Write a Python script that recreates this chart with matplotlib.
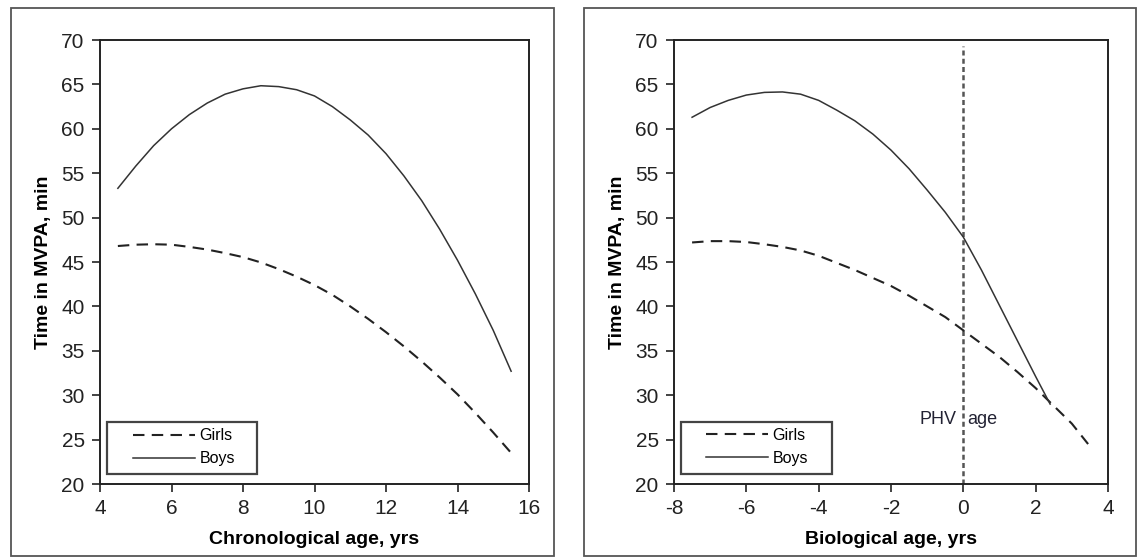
import matplotlib.pyplot as plt
from matplotlib.patches import Rectangle

plt.rcParams['font.family'] = ['Liberation Sans', 'DejaVu Sans']
plt.rcParams['axes.unicode_minus'] = False

# left panel: chronological age (yrs)
chrono_x = [4.5, 5.0, 5.5, 6.0, 6.5, 7.0, 7.5, 8.0, 8.5, 9.0, 9.5, 10.0,
            10.5, 11.0, 11.5, 12.0, 12.5, 13.0, 13.5, 14.0, 14.5, 15.0, 15.5]
chrono_boys = [53.3, 55.8, 58.1, 60.0, 61.6, 62.9, 63.9, 64.5, 64.85, 64.75, 64.4, 63.7,
               62.5, 61.0, 59.3, 57.2, 54.7, 51.9, 48.7, 45.2, 41.4, 37.3, 32.7]
chrono_girls = [46.8, 46.95, 47.0, 46.95, 46.7, 46.4, 46.0, 45.55, 44.95, 44.2, 43.35, 42.4,
                41.3, 40.0, 38.6, 37.1, 35.5, 33.8, 32.0, 30.1, 28.0, 25.8, 23.5]

# right panel: biological age (yrs from PHV)
bio_bx = [-7.5, -7.0, -6.5, -6.0, -5.5, -5.0, -4.5, -4.0, -3.5, -3.0, -2.5, -2.0,
          -1.5, -1.0, -0.5, 0.0, 0.5, 1.0, 1.5, 2.0, 2.4]
bio_boys = [61.3, 62.4, 63.2, 63.8, 64.1, 64.15, 63.9, 63.2, 62.1, 60.9, 59.4, 57.6,
            55.5, 53.1, 50.6, 47.8, 44.1, 40.1, 36.1, 32.1, 29.0]
bio_gx = [-7.5, -7.0, -6.5, -6.0, -5.5, -5.0, -4.5, -4.0, -3.5, -3.0, -2.5, -2.0,
          -1.5, -1.0, -0.5, 0.0, 0.5, 1.0, 1.5, 2.0, 2.5, 3.0, 3.45]
bio_girls = [47.2, 47.35, 47.35, 47.25, 47.0, 46.7, 46.3, 45.7, 44.9, 44.1, 43.2, 42.3,
             41.2, 40.0, 38.8, 37.3, 35.8, 34.3, 32.6, 30.8, 28.8, 26.8, 24.5]

W, H = 1139, 560
fig = plt.figure(figsize=(W / 100, H / 100), dpi=100)

# panel frames
for x0, x1 in [(11, 554), (584, 1136)]:
    fig.patches.append(Rectangle((x0 / W, 1 - 556 / H), (x1 - x0) / W, (556 - 8) / H,
                                 transform=fig.transFigure, fill=False,
                                 edgecolor='#555555', linewidth=1.3))

ax1 = fig.add_axes([100 / W, 1 - 484 / H, (529 - 100) / W, (484 - 40) / H])
ax2 = fig.add_axes([674 / W, 1 - 484 / H, (1108 - 674) / W, (484 - 40) / H])

dash = (0, (5.5, 3.5))
ax1.plot(chrono_x, chrono_girls, color='#222222', ls=dash, lw=1.5, label='Girls')
ax1.plot(chrono_x, chrono_boys, color='#333333', lw=1.1, label='Boys')
ax1.set_xlim(4, 16)
ax1.set_xticks(range(4, 17, 2))
ax1.set_xlabel('Chronological age, yrs')

ax2.plot([0, 0], [20, 69.3], color='#555555', ls=(0, (2, 1.3)), lw=1.8)
ax2.plot(bio_gx, bio_girls, color='#222222', ls=dash, lw=1.5, label='Girls')
ax2.plot(bio_bx, bio_boys, color='#333333', lw=1.1, label='Boys')
ax2.set_xlim(-8, 4)
ax2.set_xticks(range(-8, 5, 2))
ax2.set_xlabel('Biological age, yrs')
ax2.text(-0.2, 27.3, 'PHV', ha='right', va='center', fontsize=13, color='#222233')
ax2.text(0.12, 27.3, 'age', ha='left', va='center', fontsize=13, color='#222233')

for ax, hx, yc in [(ax1, 0.077, 0.083), (ax2, 0.074, 0.084)]:
    ax.set_ylim(20, 70)
    ax.set_yticks(range(20, 71, 5))
    ax.set_ylabel('Time in MVPA, min', fontsize=14, fontweight='bold', labelpad=7)
    ax.set_xlabel(ax.get_xlabel(), fontsize=14, fontweight='bold', labelpad=9)
    ax.tick_params(direction='out', length=6, width=1.2, labelsize=15,
                   colors='#222222', pad=5)
    for s in ax.spines.values():
        s.set_linewidth(1.4)
        s.set_color('#222222')
    ax.add_patch(Rectangle((0.017, 0.022), 0.348, 0.118, transform=ax.transAxes,
                           fill=False, edgecolor='#444444', linewidth=1.6, zorder=4))
    ax.legend(loc='center left', bbox_to_anchor=(hx, yc), fontsize=11.5, frameon=False,
              handlelength=3.9, handletextpad=0.25, borderpad=0, borderaxespad=0,
              labelspacing=0.5)

fig.savefig('out.png', dpi=100)
